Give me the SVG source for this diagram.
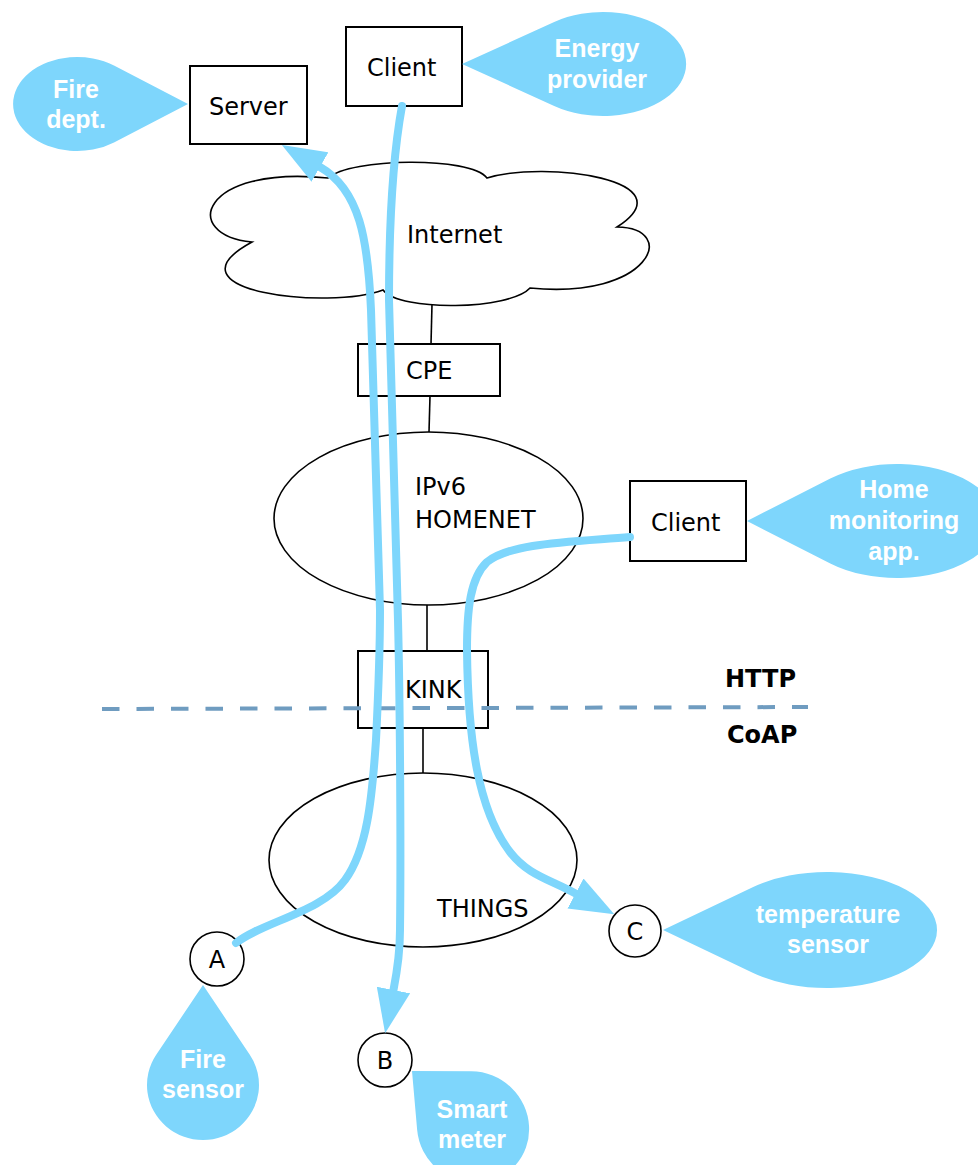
<svg xmlns="http://www.w3.org/2000/svg" width="978" height="1165" viewBox="0 0 978 1165">
  <style>
    .box { fill: #ffffff; stroke: #000000; stroke-width: 2; }
    .shape { fill: #ffffff; stroke: #000000; stroke-width: 1.6; }
    .link { fill: none; stroke: #000000; stroke-width: 1.6; }
    .lbl { font-family: "DejaVu Sans", "Liberation Sans", sans-serif; font-size: 24px; fill: #000000; }
    .proto { font-family: "DejaVu Sans", "Liberation Sans", sans-serif; font-size: 24px; font-weight: bold; fill: #000000; }
    .bubble { fill: #7ED6FC; stroke: none; }
    .btxt { font-family: "Liberation Sans", Arial, sans-serif; font-size: 25px; font-weight: bold; fill: #ffffff; text-anchor: middle; }
    .flow { fill: none; stroke: #7ED6FC; stroke-width: 8; stroke-linecap: round; }
    .mid { text-anchor: middle; }
  </style>
  <defs>
    <marker id="head" markerUnits="userSpaceOnUse" markerWidth="44" markerHeight="34" refX="0" refY="17" orient="auto">
      <path d="M0,0 L44,17 L0,34 Z" fill="#7ED6FC"/>
    </marker>
  </defs>

  <rect width="978" height="1165" fill="#ffffff"/>

  <!-- network elements -->
  <g id="internet">
    <path class="shape" d="M328,178 C350,158 470,156 487,178 C545,160 690,180 617,227 C680,228 650,300 530,288 C510,310 400,312 383,290 C330,310 160,292 252,242 C180,235 200,165 328,178 Z"/>
    <text class="lbl" x="407" y="243">Internet</text>
  </g>

  <g id="homenet">
    <ellipse class="shape" cx="428.5" cy="518.5" rx="154.5" ry="86.5"/>
    <text class="lbl" x="415" y="495">IPv6</text>
    <text class="lbl" x="415" y="528">HOMENET</text>
  </g>

  <g id="things">
    <ellipse class="shape" cx="423" cy="860" rx="154" ry="87"/>
    <text class="lbl" x="437" y="917">THINGS</text>
  </g>

  <g id="connectors">
    <line class="link" x1="432" y1="304" x2="431" y2="344"/>
    <line class="link" x1="430" y1="396" x2="429" y2="432"/>
    <line class="link" x1="427" y1="605" x2="427" y2="651"/>
    <line class="link" x1="423" y1="728" x2="423" y2="773"/>
  </g>

  <g id="cpe">
    <rect class="box" x="358" y="344" width="142" height="52"/>
    <text class="lbl" x="406" y="379">CPE</text>
  </g>

  <g id="kink">
    <rect class="box" x="358" y="651" width="130" height="77"/>
    <text class="lbl" x="405" y="698">KINK</text>
  </g>

  <g id="server">
    <rect class="box" x="190" y="66" width="117" height="78"/>
    <text class="lbl" x="209" y="115">Server</text>
  </g>

  <g id="client-top">
    <rect class="box" x="346" y="27" width="116" height="79"/>
    <text class="lbl" x="367" y="76">Client</text>
  </g>

  <g id="client-home">
    <rect class="box" x="630" y="481" width="116" height="80"/>
    <text class="lbl" x="651" y="531">Client</text>
  </g>

  <g id="node-a">
    <circle class="shape" cx="217" cy="959" r="27"/>
    <text class="lbl mid" x="217" y="968">A</text>
  </g>

  <g id="node-b">
    <circle class="shape" cx="385" cy="1060" r="27"/>
    <text class="lbl mid" x="385" y="1069">B</text>
  </g>

  <g id="node-c">
    <circle class="shape" cx="635" cy="931" r="26"/>
    <text class="lbl mid" x="635" y="940">C</text>
  </g>

  <!-- protocol boundary, drawn across the gateway box -->
  <g id="boundary">
    <line x1="102" y1="709" x2="808" y2="707" stroke="#6F9CC0" stroke-width="4" stroke-dasharray="17.5 17"/>
    <text class="proto" x="725" y="687">HTTP</text>
    <text class="proto" x="727" y="743">CoAP</text>
  </g>

  <!-- message flows -->
  <g id="flows">
    <path class="flow" marker-end="url(#head)" d="M236,943 C262,922 322,912 345,880 C367,850 372,800 376,740 C378,700 380,660 380,610 L371,310 C368,240 360,190 320,167"/>
    <path class="flow" marker-end="url(#head)" d="M402,106 C394,150 389,210 389,300 L398,620 C400,700 401,850 400,930 C400,955 397,972 393.5,990"/>
    <path class="flow" marker-end="url(#head)" d="M630,537 C570,542 510,543 487,562 C470,578 467,610 467,650 C468,740 478,810 510,852 C528,875 547.5,878.5 575.5,893.5"/>
  </g>

  <!-- role callouts: a straight tail from the tip, tangent to an elliptical body -->
  <g id="callout-fire-dept">
    <path class="bubble" transform="translate(188,104) rotate(180)" d="M0,0 L74,-38.4 A64,47 0 1 1 74,38.4 Z"/>
    <text class="btxt" x="76" y="98">Fire</text>
    <text class="btxt" x="76" y="128">dept.</text>
  </g>

  <g id="callout-energy">
    <path class="bubble" transform="translate(462,64)" d="M0,0 L92.2,-42 A83,52 0 1 1 92.2,42 Z"/>
    <text class="btxt" x="597" y="57">Energy</text>
    <text class="btxt" x="597" y="88">provider</text>
  </g>

  <g id="callout-home-app">
    <path class="bubble" transform="translate(747,521)" d="M0,0 L83.3,-42.5 A100,57 0 1 1 83.3,42.5 Z"/>
    <text class="btxt" x="894" y="498">Home</text>
    <text class="btxt" x="894" y="529">monitoring</text>
    <text class="btxt" x="894" y="560">app.</text>
  </g>

  <g id="callout-temperature">
    <path class="bubble" transform="translate(663,930)" d="M0,0 L90.2,-43 A110,58 0 1 1 90.2,43 Z"/>
    <text class="btxt" x="828" y="923">temperature</text>
    <text class="btxt" x="828" y="953">sensor</text>
  </g>

  <g id="callout-fire-sensor">
    <path class="bubble" transform="translate(203,985) rotate(90)" d="M0,0 L69.8,-46.8 A55,56 0 1 1 69.8,46.8 Z"/>
    <text class="btxt" x="203" y="1068">Fire</text>
    <text class="btxt" x="203" y="1098">sensor</text>
  </g>

  <g id="callout-smart-meter">
    <path class="bubble" transform="translate(412,1071) rotate(42.6)" d="M0,0 L43.8,-40 A57,55 0 1 1 43.8,40 Z"/>
    <text class="btxt" x="472" y="1118">Smart</text>
    <text class="btxt" x="472" y="1148">meter</text>
  </g>
</svg>
